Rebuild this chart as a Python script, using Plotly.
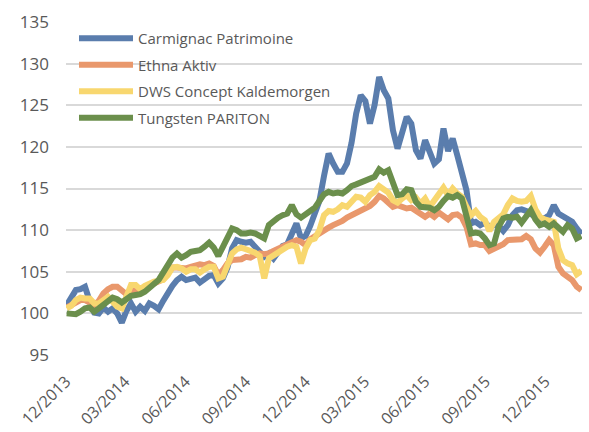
import pandas as pd
import plotly.graph_objects as go

dates = pd.date_range("2013-12-02", periods=113, freq="7D")

carmignac = [
    101.0, 102.0, 102.8, 102.9, 103.2, 101.5, 100.1, 100.0, 100.7, 100.2,
    100.6, 100.0, 98.9, 100.3, 101.2, 100.2, 100.8, 100.3, 101.2, 100.9,
    100.5, 101.5, 102.6, 103.3, 104.0, 104.4, 104.0, 104.2, 104.3, 103.7,
    104.2, 104.5, 104.6, 103.6, 104.2, 105.5, 107.8, 108.8, 108.6, 108.5,
    108.6, 108.1, 107.4, 106.8, 107.2, 106.6, 107.5, 108.1, 108.3, 109.5,
    110.8, 109.0, 109.3, 110.5, 112.0, 113.5, 116.5, 119.2, 118.0, 117.0,
    117.0, 118.0, 120.5, 124.0, 126.2, 125.5, 122.8, 125.0, 128.4, 126.8,
    125.8, 122.0, 119.8, 121.8, 123.6, 122.8, 119.6, 118.6, 120.8, 119.4,
    118.0, 118.5, 122.2, 119.5, 121.0, 119.0, 116.6, 114.8, 110.8, 111.0,
    110.6, 110.9, 110.4, 110.6, 110.5, 109.9, 110.6, 111.8, 112.4, 112.5,
    112.3, 111.9, 111.6, 111.5, 111.4, 111.8, 113.0, 112.0, 111.6, 111.3,
    111.0, 110.2, 109.5,
]

ethna = [
    100.7, 101.0, 101.4, 101.6, 101.6, 101.3, 101.0, 101.5, 102.4, 102.9,
    103.2, 103.2, 102.7, 102.3, 102.6, 102.9, 103.0, 103.1, 103.4, 103.6,
    103.9, 104.1, 104.8, 105.5, 105.5, 105.4, 105.4, 105.6, 105.8, 105.9,
    105.8, 106.0, 105.7, 104.6, 105.2, 106.0, 106.4, 106.5, 106.5, 106.8,
    106.7, 107.0, 107.2, 107.1, 107.2, 107.5, 107.8, 108.0, 108.2, 108.6,
    108.8, 108.6, 108.2, 108.9, 109.3, 109.7, 110.0, 110.3, 110.6, 110.8,
    111.1, 111.5, 111.8, 112.0, 112.3, 112.5, 112.9, 113.4, 114.1, 113.8,
    113.2, 112.8, 113.0, 112.8, 112.6, 112.7, 112.3, 111.9, 111.6, 112.0,
    111.6, 112.1, 111.7, 111.3, 111.8, 111.9, 111.5, 110.4, 108.3, 108.4,
    108.2, 108.2, 107.5, 107.8, 107.9, 108.3, 108.8, 108.8, 108.9, 108.9,
    109.3, 108.9, 107.8, 107.3, 108.0, 108.8, 108.2, 105.6, 104.8, 104.5,
    104.0, 103.2, 102.8,
]

dws = [
    100.6, 100.9, 101.6, 101.9, 101.8, 101.8, 101.2, 101.2, 101.6, 102.0,
    101.4, 100.8, 100.6, 102.0, 103.4, 103.4, 102.9, 103.3, 103.6, 103.8,
    103.9, 104.0, 104.6, 105.5, 105.6, 105.4, 105.0, 105.3, 105.3, 104.9,
    105.3, 105.6, 105.6, 104.2, 104.4, 105.6, 107.2, 107.7, 107.9, 107.7,
    107.5, 107.3, 106.9, 104.2, 106.6, 107.0, 107.3, 107.6, 108.0, 108.2,
    108.0, 106.0, 107.8, 108.8, 109.0, 110.0, 111.8, 112.3, 112.2, 112.5,
    113.0, 112.8, 113.4, 114.0, 113.9, 113.4, 114.2, 114.6, 115.3, 114.8,
    114.5, 113.6, 113.3, 113.8, 114.2, 113.6, 113.9, 113.2, 113.8, 112.8,
    113.5, 114.3, 115.1, 114.2, 115.0, 114.4, 114.0, 112.8, 111.8, 112.3,
    111.6, 111.2, 109.9, 111.0, 111.4, 111.9, 113.0, 113.8, 113.5, 113.4,
    113.5, 114.1, 112.5, 111.6, 111.3, 111.2, 111.0, 107.8, 106.4, 106.0,
    105.8, 104.7, 105.1,
]

tungsten = [
    100.0, 99.9, 99.9, 100.2, 100.6, 100.7, 100.2, 100.6, 101.0, 101.4,
    101.9, 101.7, 101.3, 101.7, 102.1, 102.2, 102.3, 102.6, 103.1, 103.4,
    104.0, 104.9, 105.9, 106.7, 107.2, 106.7, 107.0, 107.4, 107.5, 107.6,
    108.0, 108.5, 107.9, 106.9, 108.0, 109.2, 110.2, 110.0, 109.6, 109.6,
    109.7, 109.6, 109.2, 109.0, 110.6, 111.1, 111.5, 111.8, 112.0, 113.0,
    111.9, 111.5, 112.0, 112.3, 112.7, 113.4, 114.3, 114.6, 114.4, 114.5,
    114.4, 114.8, 115.3, 115.5, 115.7, 115.9, 116.1, 116.4, 117.3, 116.9,
    117.2, 115.6, 114.2, 114.3, 114.9, 114.8, 113.4, 112.8, 112.8, 112.7,
    112.4, 112.8, 113.5, 114.1, 113.9, 114.2, 113.8, 112.0, 109.6, 109.7,
    109.6, 109.0, 108.2, 108.4, 110.4, 111.4, 111.6, 111.5, 111.6, 110.9,
    111.6, 112.4, 111.3, 110.6, 110.8, 110.4, 110.8, 110.3, 109.8, 110.6,
    110.2, 109.0, 109.3,
]

series_names = ["Carmignac Patrimoine", "Ethna Aktiv", "DWS Concept Kaldemorgen", "Tungsten PARITON"]
series_values = [carmignac, ethna, dws, tungsten]
series_colors = ["#5A7DAD", "#E9986C", "#F8D76F", "#6B8F4C"]

y_ticks = [95, 100, 105, 110, 115, 120, 125, 130, 135]

fig = go.Figure()
for i, (name, vals, col) in enumerate(zip(series_names, series_values, series_colors)):
    fig.add_trace(go.Scatter(x=dates, y=vals, name=name, mode="lines",
                             legendgroup=f"g{i}",
                             line=dict(color=col, width=6)))

fig.update_layout(
    width=589, height=432,
    margin=dict(l=66, r=7, t=22, b=77),
    paper_bgcolor="white", plot_bgcolor="white",
    font=dict(family="Open Sans", color="#595959", size=15),
    showlegend=True,
    legend=dict(x=0.0155, y=1.0, xanchor="left", yanchor="top",
                bgcolor="rgba(0,0,0,0)", font=dict(size=15, color="#595959"),
                itemwidth=54, tracegroupgap=4),
)
fig.update_xaxes(
    type="date", range=["2013-12-01", "2016-01-26"], automargin=False,
    tick0="2013-12-01", dtick="M3", tickformat="%m/%Y", tickangle=-45,
    showgrid=False, zeroline=False, showline=False,
    tickfont=dict(size=16, color="#595959"), ticks="", ticklabelstandoff=13,
)
fig.update_yaxes(
    range=[95, 135], tickvals=y_ticks, automargin=False,
    showgrid=True, gridcolor="#D9D9D9", gridwidth=1.5,
    zeroline=False, showline=False,
    tickfont=dict(size=17, color="#595959"), ticks="", ticklabelstandoff=16,
)

fig.write_html(
    "out.html",
    config={"displayModeBar": False},
    post_script="document.body.style.margin='0';document.body.style.overflow='hidden';",
)
